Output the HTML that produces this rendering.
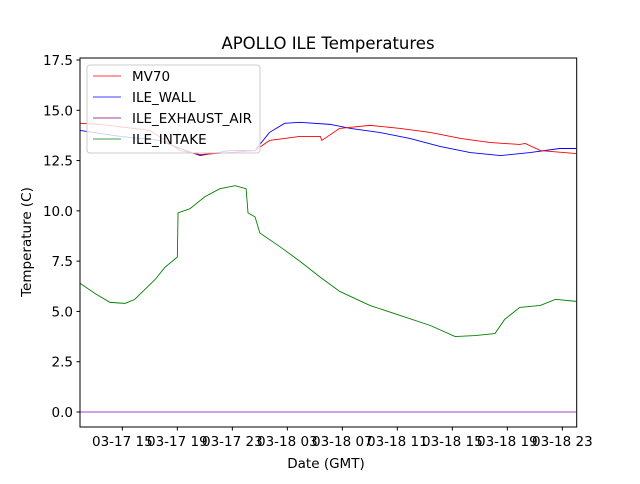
<!DOCTYPE html>
<html><head><meta charset="utf-8"><style>
body{margin:0;background:#fff;font-family:"DejaVu Sans","Liberation Sans",sans-serif}
</style></head><body>
<svg id="chart" width="640" height="480" xmlns="http://www.w3.org/2000/svg" font-family="DejaVu Sans, Liberation Sans, sans-serif">
<rect width="640" height="480" fill="#fff"/>
<text x="328" y="49" font-size="16.5" text-anchor="middle">APOLLO ILE Temperatures</text>
<text x="326" y="468" font-size="13.5" text-anchor="middle">Date (GMT)</text>
<text transform="translate(31,242) rotate(-90)" font-size="13.5" text-anchor="middle">Temperature (C)</text>
<g id="ticks"></g>
<g id="series"></g>
<rect x="80" y="58" width="496.7" height="369" fill="none" stroke="#000" stroke-width="1"/>
<g>
<rect x="87" y="65" width="173" height="88" rx="3" fill="#fff" fill-opacity="0.8" stroke="#ccc"/>
<line x1="93" y1="76" x2="121" y2="76" stroke="red" stroke-width="0.8"/>
<text x="132" y="81" font-size="13.5">MV70</text>
<line x1="93" y1="97" x2="121" y2="97" stroke="blue" stroke-width="0.8"/>
<text x="132" y="102" font-size="13.5">ILE_WALL</text>
<line x1="93" y1="118" x2="121" y2="118" stroke="purple" stroke-width="0.8"/>
<text x="132" y="123" font-size="13.5">ILE_EXHAUST_AIR</text>
<line x1="93" y1="139" x2="121" y2="139" stroke="green" stroke-width="0.8"/>
<text x="132" y="144" font-size="13.5">ILE_INTAKE</text>
</g>
</svg>
<script>
const yTicks=[0,2.5,5,7.5,10,12.5,15,17.5];
const xTickHours=[15,19,23,27,31,35,39,43,47];
const xTickLabels=["03-17 15","03-17 19","03-17 23","03-18 03","03-18 07","03-18 11","03-18 15","03-18 19","03-18 23"];
const mvT=[11.92,13.37,17.0,19.2,20.65,22.8,24.65,25.7,27.9,29.4,29.5,30.8,33.0,35.2,37.4,39.6,41.7,43.9,44.3,45.4,47.99];
const mvV=[14.35,14.3,14.0,13.0,12.8,12.9,13.0,13.5,13.7,13.7,13.5,14.1,14.25,14.1,13.9,13.6,13.4,13.3,13.35,13.0,12.85];
const wallT=[11.92,14.83,17.7,19.2,20.65,22.8,24.65,25.7,26.8,27.9,30.1,31.6,33.7,35.9,38.1,40.3,42.5,44.65,46.8,47.99];
const wallV=[14.0,13.7,13.5,13.1,12.75,13.0,13.0,13.9,14.35,14.4,14.3,14.1,13.9,13.6,13.2,12.9,12.75,12.9,13.1,13.1];
const exT=[11.92,47.99];
const exV=[0,0];
const inT=[11.92,13.0,14.1,15.2,15.9,16.65,17.4,18.1,19.0,19.05,19.9,21.0,22.1,23.2,24.0,24.14,24.65,25.0,26.5,27.9,29.4,30.8,33.0,35.2,37.4,39.2,40.65,42.1,42.8,43.9,45.4,46.5,47.99];
const inV=[6.4,5.9,5.45,5.4,5.6,6.1,6.6,7.2,7.7,9.9,10.1,10.7,11.1,11.25,11.1,9.9,9.7,8.9,8.2,7.5,6.7,6.0,5.3,4.8,4.3,3.75,3.8,3.9,4.6,5.2,5.3,5.6,5.5];
const X=h=>80+(h-11.92)*13.75;
const Y=v=>412-v*(352/17.5);
const NS="http://www.w3.org/2000/svg";
const tg=document.getElementById('ticks');
function mk(tag,attrs,parent){const e=document.createElementNS(NS,tag);for(const k in attrs)e.setAttribute(k,attrs[k]);parent.appendChild(e);return e;}
yTicks.forEach(v=>{
 const l=mk('line',{x1:76.5,x2:80,y1:Y(v),y2:Y(v),stroke:'#000'},tg);
 
 
 const t=mk('text',{x:73,y:Y(v)+5,'font-size':13.5,'text-anchor':'end'},tg);
 
 
 t.textContent=v.toFixed(1);
});
xTickHours.forEach((h,i)=>{
 const l=mk('line',{x1:X(h),x2:X(h),y1:427,y2:430.5,stroke:'#000'},tg);
 
 
 const t=mk('text',{x:X(h),y:446,'font-size':13.5,'text-anchor':'middle'},tg);
 
 
 t.textContent=xTickLabels[i];
});
const sg=document.getElementById('series');
function line(T,V,color,name){
 const p=mk('polyline',{points:T.map((t,i)=>X(t)+','+Y(V[i])).join(' '),fill:'none',stroke:color,'stroke-width':0.9},sg);
 
 
}
line(exT,exV,'#a040c0','series-ile-exhaust-air');
line(inT,inV,'green','series-ile-intake');
line(wallT,wallV,'blue','series-ile-wall');
line(mvT,mvV,'red','series-mv70');
</script>
</body></html>
